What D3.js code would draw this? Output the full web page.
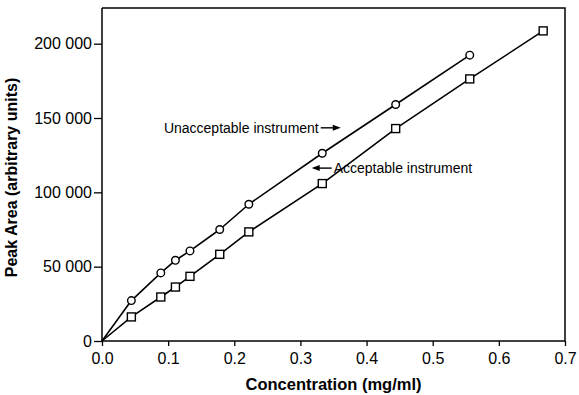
<!DOCTYPE html>
<html>
<head>
<meta charset="utf-8">
<script src="https://cdn.jsdelivr.net/npm/d3@7"></script>
<style>
  body { margin: 0; background: #fff; }
  svg { display: block; font-family: "Liberation Sans", Arial, Helvetica, sans-serif; }
</style>
</head>
<body>
<div id="chart"></div>
<script>
// concentration (mg/ml) and peak areas
var concentration = [0, 0.0444, 0.0889, 0.111, 0.133, 0.178, 0.222, 0.333, 0.444, 0.556, 0.667];
var unacceptable = [0, 27200, 45800, 54300, 60600, 75000, 92000, 126300, 159100, 192300];
var acceptable = [0, 16200, 29600, 36300, 43500, 58300, 73400, 105900, 142900, 176300, 208600];

var xTicks = [0, 0.1, 0.2, 0.3, 0.4, 0.5, 0.6, 0.7];
var yTicks = [0, 50000, 100000, 150000, 200000];

var width = 579, height = 395;
var margin = {top: 8, right: 14, bottom: 54, left: 102};
var w = width - margin.left - margin.right;
var h = height - margin.top - margin.bottom;

var svg = d3.select("#chart").append("svg")
	.attr("width", width)
	.attr("height", height);

var g = svg.append("g")
	.attr("transform", "translate(" + margin.left + "," + margin.top + ")");

var x = d3.scaleLinear().domain([0, 0.7]).range([0, w]);
var y = d3.scaleLinear().domain([0, 224000]).range([h, 0]);

// frame (top + right)
g.append("path")
	.attr("d", "M0,0H" + w + "V" + h)
	.attr("fill", "none")
	.attr("stroke", "#000")
	.attr("stroke-width", 1.5);

var xAxis = g.append("g")
	.attr("transform", "translate(0," + h + ")")
	.call(d3.axisBottom(x).tickValues(xTicks).tickFormat(d3.format(".1f")).tickSize(5).tickPadding(7));

var yAxis = g.append("g")
	.call(d3.axisLeft(y).tickValues(yTicks)
		.tickFormat(function(d) { return d3.format(",")(d).replace(/,/g, " "); })
		.tickSize(8).tickPadding(2));

[xAxis, yAxis].forEach(function(ax) {
	ax.select(".domain").attr("stroke-width", 1.5);
	ax.selectAll(".tick line").attr("stroke-width", 1.3);
	ax.selectAll("text")
		.attr("font-size", 16)
		.attr("font-family", "'Liberation Sans', Arial, Helvetica, sans-serif")
		.attr("fill", "#000");
});
yAxis.select(".domain").attr("d", "M0," + h + "V0");
xAxis.select(".domain").attr("d", "M0,0H" + w);

// axis titles
g.append("text")
	.attr("x", w / 2)
	.attr("y", h + 49)
	.attr("text-anchor", "middle")
	.attr("font-size", 16.5)
	.attr("font-weight", "bold")
	.text("Concentration (mg/ml)");

g.append("text")
	.attr("transform", "translate(" + (17 - margin.left) + "," + (h / 2 + 3) + ") rotate(-90)")
	.attr("text-anchor", "middle")
	.attr("font-size", 16)
	.attr("font-weight", "bold")
	.text("Peak Area (arbitrary units)");

var line = d3.line()
	.x(function(d) { return x(d[0]); })
	.y(function(d) { return y(d[1]); });

var unaccPts = unacceptable.map(function(v, i) { return [concentration[i], v]; });
var accPts = acceptable.map(function(v, i) { return [concentration[i], v]; });

[unaccPts, accPts].forEach(function(pts) {
	g.append("path")
		.datum(pts)
		.attr("d", line)
		.attr("fill", "none")
		.attr("stroke", "#000")
		.attr("stroke-width", 1.6)
		.attr("stroke-linejoin", "round");
});

// markers (no marker at the origin)
g.selectAll(".circ")
	.data(unaccPts.slice(1))
	.enter().append("circle")
	.attr("class", "circ")
	.attr("cx", function(d) { return x(d[0]); })
	.attr("cy", function(d) { return y(d[1]); })
	.attr("r", 3.8)
	.attr("fill", "#fff")
	.attr("stroke", "#000")
	.attr("stroke-width", 1.4);

g.selectAll(".sq")
	.data(accPts.slice(1))
	.enter().append("rect")
	.attr("class", "sq")
	.attr("x", function(d) { return x(d[0]) - 4; })
	.attr("y", function(d) { return y(d[1]) - 4; })
	.attr("width", 8)
	.attr("height", 8)
	.attr("fill", "#fff")
	.attr("stroke", "#000")
	.attr("stroke-width", 1.4);

// annotations: arrow tip in data units, dir = which way the arrow points
var annoText = ["Unacceptable instrument", "Acceptable instrument"];
var annoX = [0.361, 0.317];
var annoY = [143400, 116300];
var annoDir = [1, -1];

annoText.forEach(function(t, i) {
	var tipX = x(annoX[i]), tipY = y(annoY[i]);
	var tailX = tipX - annoDir[i] * 20;
	g.append("line")
		.attr("x1", tailX).attr("y1", tipY)
		.attr("x2", tipX - annoDir[i] * 6).attr("y2", tipY)
		.attr("stroke", "#000")
		.attr("stroke-width", 1.4);
	g.append("path")
		.attr("d", "M" + tipX + "," + tipY +
			"L" + (tipX - annoDir[i] * 8) + "," + (tipY - 3) +
			"L" + (tipX - annoDir[i] * 8) + "," + (tipY + 3) + "Z")
		.attr("fill", "#000");
	g.append("text")
		.attr("x", tailX - annoDir[i] * 2)
		.attr("y", tipY + 5)
		.attr("text-anchor", annoDir[i] > 0 ? "end" : "start")
		.attr("font-size", 14)
		.text(t);
});
</script>
</body>
</html>
